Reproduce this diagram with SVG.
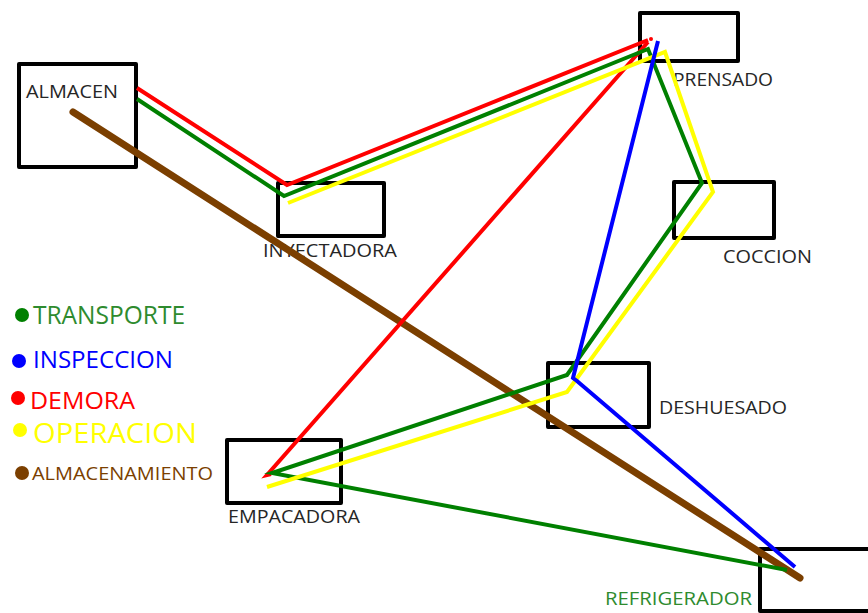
<svg xmlns="http://www.w3.org/2000/svg" width="868" height="613" viewBox="0 0 868 613">
  <style>
    .box { fill: none; stroke: #000; stroke-width: 4; stroke-linejoin: round; }
    .lbl { font-family: "Open Sans", "Liberation Sans", sans-serif; font-size: 18px; fill: #262626; }
    .route { fill: none; stroke-width: 4; stroke-linejoin: miter; stroke-linecap: butt; }
    .leg { font-family: "Open Sans", "Liberation Sans", sans-serif; }
  </style>
  <rect width="868" height="613" fill="#fff"/>

  <!-- stations -->
  <g id="almacen">
    <rect class="box" x="19" y="64" width="117" height="103"/>
    <text class="lbl" x="26" y="98" textLength="92" lengthAdjust="spacingAndGlyphs">ALMACEN</text>
  </g>
  <g id="prensado">
    <rect class="box" x="640" y="13" width="98" height="48"/>
    <text class="lbl" x="673" y="86" textLength="100" lengthAdjust="spacingAndGlyphs">PRENSADO</text>
  </g>
  <g id="inyectadora">
    <rect class="box" x="278" y="183" width="106" height="53"/>
    <text class="lbl" x="263" y="257" textLength="134" lengthAdjust="spacingAndGlyphs">INYECTADORA</text>
  </g>
  <g id="coccion">
    <rect class="box" x="674" y="182" width="100" height="56"/>
    <text class="lbl" x="723" y="263" textLength="89" lengthAdjust="spacingAndGlyphs">COCCION</text>
  </g>
  <g id="deshuesado">
    <rect class="box" x="548" y="363" width="101" height="64"/>
    <text class="lbl" x="659" y="414" textLength="128" lengthAdjust="spacingAndGlyphs">DESHUESADO</text>
  </g>
  <g id="empacadora">
    <rect class="box" x="227" y="440" width="114" height="63"/>
    <text class="lbl" x="228" y="523" textLength="132" lengthAdjust="spacingAndGlyphs">EMPACADORA</text>
  </g>
  <g id="refrigerador">
    <rect class="box" x="760" y="549" width="112" height="62"/>
    <text class="lbl" x="605" y="605" textLength="147" lengthAdjust="spacingAndGlyphs" style="fill:#2E8B2E">REFRIGERADOR</text>
  </g>

  <!-- routes -->
  <g id="connectors">
    <line x1="73" y1="112" x2="800" y2="578" stroke="#7B3F00" stroke-width="7" stroke-linecap="round"/>
    <polyline class="route" stroke="#FF0000" points="137,88 287,185 648,40"/>
    <polyline class="route" stroke="#FF0000" points="648,42 267,475 271,474"/>
    <circle cx="651" cy="39" r="2" fill="#FF0000"/>
    <polyline class="route" stroke="#008000" points="137,99 284,196 648,49 702,183 567,375 272,473 787,570"/>
    <polyline class="route" stroke="#FFFF00" points="288,203 665,52 713,192 567,392 267,487"/>
    <polyline class="route" stroke="#0000FF" points="658,41 573,378 577,381 795,567"/>
  </g>

  <!-- key -->
  <g id="legend" class="leg">
    <circle cx="22" cy="315" r="7" fill="#008000"/>
    <text x="33" y="324" font-size="26" fill="#2E8B2E" textLength="152" lengthAdjust="spacingAndGlyphs">TRANSPORTE</text>
    <circle cx="19" cy="361" r="7" fill="#0000FF"/>
    <text x="33" y="368" font-size="24" fill="#0000FF" textLength="140" lengthAdjust="spacingAndGlyphs">INSPECCION</text>
    <circle cx="18" cy="398" r="7" fill="#FF0000"/>
    <text x="30" y="409" font-size="24" fill="#FF0000" textLength="105" lengthAdjust="spacingAndGlyphs">DEMORA</text>
    <circle cx="20" cy="430" r="7" fill="#FFFF00"/>
    <text x="33" y="443" font-size="27" fill="#FFFF00" textLength="164" lengthAdjust="spacingAndGlyphs">OPERACION</text>
    <circle cx="22" cy="473" r="7" fill="#7B3F00"/>
    <text x="32" y="480" font-size="18" fill="#7B3F00" textLength="181" lengthAdjust="spacingAndGlyphs">ALMACENAMIENTO</text>
  </g>
</svg>
